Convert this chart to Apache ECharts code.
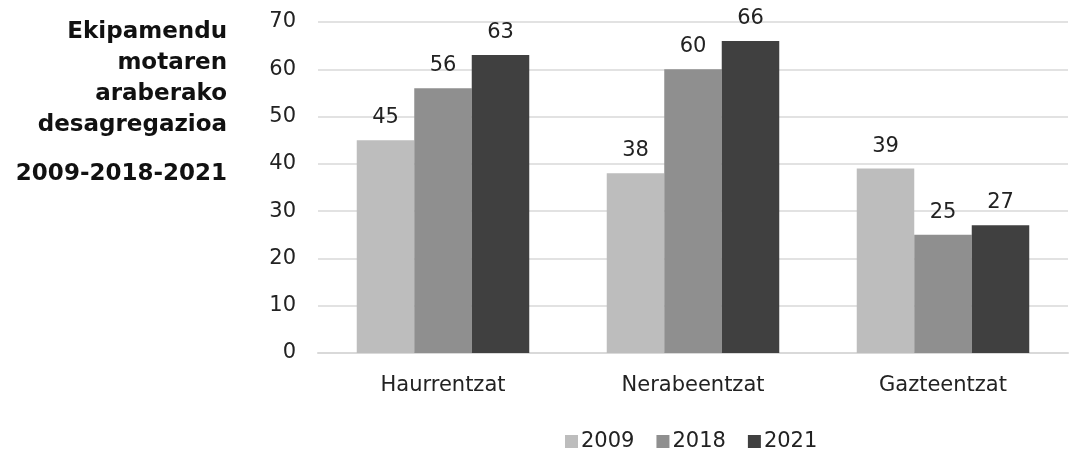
<!DOCTYPE html>
<html>
<head>
<meta charset="utf-8">
<script src="https://cdn.jsdelivr.net/npm/echarts@6/dist/echarts.min.js"></script>
<style>
  html, body { margin: 0; padding: 0; background: #fff; }
  #container { width: 1086px; height: 457px; }
</style>
</head>
<body>
<div id="container"></div>
<script>
let categories = ['Haurrentzat', 'Nerabeentzat', 'Gazteentzat'];
let years = ['2009', '2018', '2021'];
let values2009 = [45, 38, 39];
let values2018 = [56, 60, 25];
let values2021 = [63, 66, 27];
let yTicks = [0, 10, 20, 30, 40, 50, 60, 70];

let colors = ['#bdbdbd', '#8f8f8f', '#404040'];
let font = 'DejaVu Sans';

var dom = document.getElementById('container');
var myChart = echarts.init(dom, null, {
    renderer: 'canvas',
    useDirtyRect: false
});

function bar(name, data, color) {
    return {
        name: name,
        type: 'bar',
        data: data,
        barGap: '0%',
        barCategoryGap: '31%',
        itemStyle: { color: color },
        label: {
            show: true,
            position: 'top',
            distance: 12,
            color: '#222',
            fontFamily: font,
            fontSize: 21
        }
    };
}

var option = {
    animation: false,
    textStyle: { fontFamily: font },
    title: [
        {
            text: 'Ekipamendu\nmotaren\naraberako\ndesagregazioa',
            left: 222,
            top: 12,
            textAlign: 'right',
            textStyle: { fontFamily: font, fontSize: 23, fontWeight: 'bold', color: '#111', lineHeight: 31 }
        },
        {
            text: '2009-2018-2021',
            left: 222,
            top: 158,
            textAlign: 'right',
            textStyle: { fontFamily: font, fontSize: 23, fontWeight: 'bold', color: '#111' }
        }
    ],
    legend: {
        data: years,
        bottom: 0,
        left: 560,
        icon: 'rect',
        itemWidth: 13,
        itemHeight: 13,
        itemGap: 22,
        textStyle: { fontFamily: font, fontSize: 21, color: '#222', padding: [0, 0, 0, -2] }
    },
    grid: {
        left: 318,
        right: 18,
        top: 22,
        bottom: 104
    },
    xAxis: {
        type: 'category',
        data: categories,
        axisLine: { lineStyle: { color: '#d9d9d9', width: 2 } },
        axisTick: { show: false },
        axisLabel: { fontFamily: font, fontSize: 21, color: '#222', margin: 22 }
    },
    yAxis: {
        type: 'value',
        min: yTicks[0],
        max: yTicks[yTicks.length - 1],
        interval: 10,
        axisLine: { show: false },
        axisTick: { show: false },
        axisLabel: { fontFamily: font, fontSize: 21, color: '#222', margin: 22 },
        splitLine: { lineStyle: { color: '#d9d9d9', width: 1.5 } }
    },
    series: [
        bar(years[0], values2009, colors[0]),
        bar(years[1], values2018, colors[1]),
        bar(years[2], values2021, colors[2])
    ]
};

if (option && typeof option === 'object') {
    myChart.setOption(option);
}

window.addEventListener('resize', myChart.resize);
</script>
</body>
</html>
